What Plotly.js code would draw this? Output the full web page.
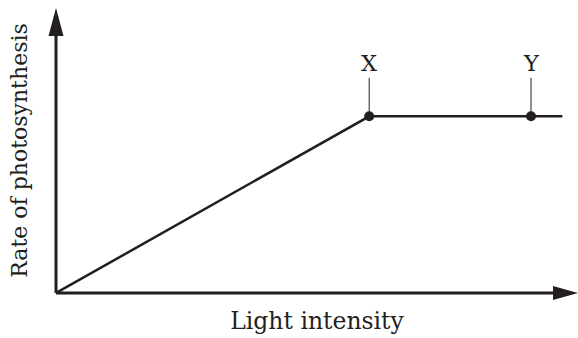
<!DOCTYPE html>
<html>
<head>
<meta charset="utf-8">
<script src="https://cdn.plot.ly/plotly-3.0.1.min.js"></script>
<style>html,body{margin:0;padding:0;background:#fff;}#chart{width:578px;height:338px;}</style>
</head>
<body>
<div id="chart"></div>
<script>
// Data (arbitrary units)
const lightIntensity = [0, 60, 91, 97];
const rate = [0, 62, 62, 62];
const pointLabels = ["X", "Y"];
const pointX = [60, 91];
const pointY = [62, 62];
const xTitle = "Light intensity";
const yTitle = "Rate of photosynthesis";

const ink = "#231f20";
const font = "DejaVu Serif, Liberation Serif, serif";

const traces = [
  {x: lightIntensity, y: rate, mode: "lines", line: {color: ink, width: 2.5}, hoverinfo: "skip", cliponaxis: false},
  {x: pointX, y: pointY, mode: "markers", marker: {color: ink, size: 10}, hoverinfo: "skip", cliponaxis: false}
];

const annotations = pointLabels.map((t, i) => ({
  x: pointX[i], y: pointY[i], xref: "x", yref: "y",
  text: t, showarrow: true, arrowhead: 0, arrowwidth: 1, arrowcolor: ink,
  ax: 0, ay: -53, font: {family: font, size: 22.5, color: ink}
}));

// Axis arrows (decoration, paper coordinates)
const W = 522, H = 285;
const shapes = [
  {type: "line", xref: "paper", yref: "paper", x0: 0, y0: 0, x1: 0, y1: (293-36)/H, line: {color: ink, width: 3}},
  {type: "line", xref: "paper", yref: "paper", x0: 0, y0: 0, x1: (553-56)/W, y1: 0, line: {color: ink, width: 3}},
  {type: "path", xref: "paper", yref: "paper",
   path: `M 0 1 L ${-7.5/W} ${(293-36)/H} L ${7.5/W} ${(293-36)/H} Z`, fillcolor: ink, line: {width: 0}},
  {type: "path", xref: "paper", yref: "paper",
   path: `M 1 0 L ${(553-56)/W} ${7/H} L ${(553-56)/W} ${-7/H} Z`, fillcolor: ink, line: {width: 0}}
];

const layout = {
  width: 578, height: 338,
  margin: {l: 56, r: 0, t: 8, b: 45},
  paper_bgcolor: "#fff", plot_bgcolor: "#fff",
  showlegend: false,
  xaxis: {range: [0, 100], showline: false, showgrid: false, zeroline: false, showticklabels: false, ticks: "",
          title: {text: xTitle, font: {family: font, size: 23.5, color: ink}, standoff: 19}},
  yaxis: {range: [0, 100], showline: false, showgrid: false, zeroline: false, showticklabels: false, ticks: "",
          title: {text: yTitle, font: {family: font, size: 22, color: ink}, standoff: 21}},
  shapes: shapes,
  annotations: annotations
};

Plotly.newPlot("chart", traces, layout, {staticPlot: true, displayModeBar: false});
</script>
</body>
</html>
